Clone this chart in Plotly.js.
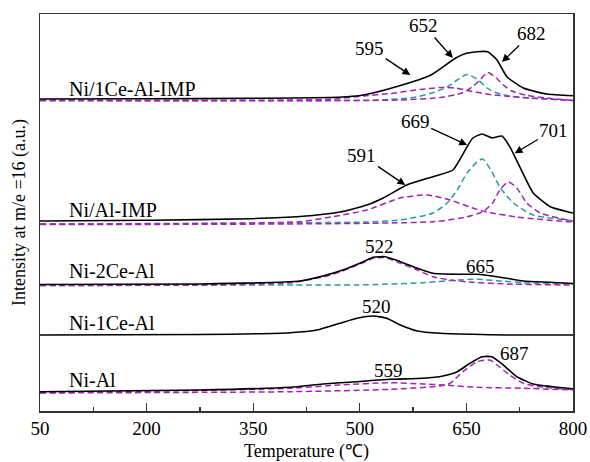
<!DOCTYPE html>
<html>
<head>
<meta charset="utf-8">
<script src="https://cdn.plot.ly/plotly-3.0.1.min.js"></script>
<style>
html,body{margin:0;padding:0;background:#fff;}
#chart{width:590px;height:462px;}
</style>
</head>
<body>
<div id="chart"></div>
<script>
// ---------------- data (temperature in °C, intensity in a.u., curves stacked) ----------------
// Ni/1Ce-Al-IMP
var t1 = [50, 200, 350, 470, 505, 550, 600, 635, 650, 665, 680, 693, 707, 730, 763, 800];
var y1 = [312, 312.2, 312.7, 313.7, 316, 324, 336, 353, 357.7, 359.3, 359.3, 351, 334.3, 323, 317, 315.3];
var t1a = [50, 345, 458, 505, 543, 585, 613, 634, 655, 683, 711, 739, 800];          // fit 595
var y1a = [310.5, 310.7, 311.7, 315, 317.5, 321.5, 323.5, 323, 320, 316.5, 314.5, 313, 310.5];
var t1b = [50, 458, 528, 575, 599, 623, 637, 651, 665, 679, 693, 711, 739, 800];     // fit 652
var y1b = [310.5, 310.5, 311, 313.5, 317.5, 324, 331, 336.5, 332, 323, 318, 315, 313, 310.5];
var t1c = [50, 557, 613, 644, 658, 669, 680, 692, 702, 714, 733, 763, 800];          // fit 682
var y1c = [310.5, 311, 313.5, 318, 324, 331, 338.5, 333, 326, 320, 316, 313, 310.5];

// Ni/Al-IMP
var t2 = [50, 205, 345, 416, 472, 510, 533, 566, 603, 631, 651, 659, 672, 686, 700, 711, 725, 744, 768, 792, 800];
var y2 = [190, 190.7, 192.3, 194.5, 199, 206, 213, 226, 234.3, 241, 264.3, 273, 277, 273, 275, 264.3, 244.3, 218, 204.3, 199.3, 198];
var t2a = [50, 275, 416, 462, 510, 557, 595, 627, 659, 679, 721, 792, 800];          // fit 591
var y2a = [187, 187.5, 189.3, 194.3, 201, 213, 216, 211, 203, 199, 194, 189.3, 189];
var t2b = [50, 510, 557, 603, 623, 637, 651, 665, 673, 686, 697, 716, 744, 792, 800]; // fit 669
var y2b = [187, 189, 191, 198, 208, 221, 238, 249, 252, 239, 224, 208, 196, 191, 190];
var t2c = [50, 603, 651, 673, 687, 697, 709, 721, 735, 754, 792, 800];               // fit 701
var y2c = [186.5, 189.3, 194.3, 199.3, 208, 221, 229, 223, 208, 198, 191, 190];

// Ni-2Ce-Al
var t3 = [50, 275, 416, 448, 476, 505, 519, 536, 557, 581, 603, 637, 665, 693, 730, 768, 793, 800];
var y3 = [126.5, 127, 130, 135, 141, 149.3, 153.7, 154.3, 149.3, 142.7, 137.7, 136.7, 136.7, 134.3, 130, 128.7, 127.7, 127.5];
var t3a = [50, 275, 402, 448, 476, 505, 519, 536, 557, 581, 603, 627, 659, 707, 792, 800]; // fit 522
var y3a = [125.5, 126, 128.3, 134, 140, 148.5, 152.7, 153.3, 147.7, 141, 134.3, 131, 128.7, 127, 126, 126];
var t3b = [50, 402, 496, 589, 637, 665, 693, 730, 792, 800];                         // fit 665
var y3b = [125.5, 126, 126, 128.3, 131, 131.7, 130.3, 128.3, 127, 126.8];

// Ni-1Ce-Al
var t4 = [50, 275, 402, 440, 472, 496, 519, 538, 557, 581, 613, 659, 707, 800];
var y4 = [76, 76.5, 78.3, 81, 87.7, 92.7, 95, 92.7, 86, 80, 77.7, 76.7, 76, 76];

// Ni-Al
var t5 = [50, 275, 402, 448, 496, 543, 589, 617, 637, 655, 672, 686, 702, 721, 744, 778, 800];
var y5 = [19.3, 21, 23.7, 27, 29.3, 31.7, 32.7, 35, 39.3, 47.7, 54.3, 54.3, 46, 34.3, 27, 23.7, 22.3];
var t5a = [50, 275, 402, 472, 543, 589, 617, 665, 730, 800];                         // fit 559
var y5a = [18.3, 20.5, 22.7, 26, 28.3, 27, 26, 23.7, 22.7, 21];
var t5b = [50, 402, 543, 613, 627, 645, 665, 683, 693, 711, 730, 758, 800];          // fit 687
var y5b = [18, 19.3, 21.7, 25, 27.7, 39.3, 49.3, 51, 46, 36, 27.7, 23.7, 21.5];

// labels
var sampleNames = ['Ni/1Ce-Al-IMP', 'Ni/Al-IMP', 'Ni-2Ce-Al', 'Ni-1Ce-Al', 'Ni-Al'];
var sampleLabelT = [88, 88, 88, 88, 88];
var sampleLabelY = [322.5, 201.5, 140.5, 88.5, 31.5];

// peak labels with arrows: text, text position, arrow tip
var arrowText = ['595', '652', '682', '591', '669', '701'];
var arrowTextT = [514, 590, 742, 503, 578, 773];
var arrowTextY = [363, 385.5, 377.5, 255.5, 290, 281];
var arrowTipT = [571, 631, 700, 564, 651, 718];
var arrowTipY = [336, 353, 349, 226, 266, 257.7];

// plain peak labels
var peakText = ['522', '665', '520', '559', '687'];
var peakT = [528, 670, 523, 540, 718];
var peakY = [164.5, 145, 104.5, 41, 57.5];

var xTicks = [50, 200, 350, 500, 650, 800];

// ---------------- traces ----------------
var MAG = '#a324b4', CYA = '#2b9c9c';
function dashed(t, y, c) {
  return {x: t, y: y, mode: 'lines', type: 'scatter', hoverinfo: 'skip', showlegend: false,
          line: {color: c, width: 1.5, dash: '6px,3.5px', shape: 'spline', smoothing: 0.6}};
}
function solid(t, y) {
  return {x: t, y: y, mode: 'lines', type: 'scatter', showlegend: false,
          line: {color: '#000', width: 1.6, shape: 'spline', smoothing: 0.5}};
}
var data = [
  dashed(t1b, y1b, CYA), dashed(t1a, y1a, MAG), dashed(t1c, y1c, MAG),
  dashed(t2b, y2b, CYA), dashed(t2a, y2a, MAG), dashed(t2c, y2c, MAG),
  dashed(t3b, y3b, CYA), dashed(t3a, y3a, MAG),
  dashed(t5a, y5a, MAG), dashed(t5b, y5b, MAG),
  solid(t1, y1), solid(t2, y2), solid(t3, y3), solid(t4, y4), solid(t5, y5)
];

var FONT = 'Liberation Serif, Times New Roman, serif';
var annotations = [];
for (var i = 0; i < sampleNames.length; i++) {
  annotations.push({x: sampleLabelT[i], y: sampleLabelY[i], xref: 'x', yref: 'y', text: sampleNames[i],
    showarrow: false, xanchor: 'left', yanchor: 'middle', font: {family: FONT, size: 20, color: '#000'}});
}
for (var j = 0; j < arrowText.length; j++) {
  annotations.push({x: arrowTipT[j], y: arrowTipY[j], xref: 'x', yref: 'y',
    ax: arrowTextT[j], ay: arrowTextY[j], axref: 'x', ayref: 'y', text: arrowText[j],
    showarrow: true, arrowhead: 2, arrowsize: 1.2, arrowwidth: 1.3, arrowcolor: '#000',
    borderpad: 1, font: {family: FONT, size: 19, color: '#000'}});
}
for (var k = 0; k < peakText.length; k++) {
  annotations.push({x: peakT[k], y: peakY[k], xref: 'x', yref: 'y', text: peakText[k],
    showarrow: false, xanchor: 'center', yanchor: 'middle', font: {family: FONT, size: 19, color: '#000'}});
}

var layout = {
  width: 590, height: 462,
  margin: {l: 40, r: 17, t: 14, b: 51},
  paper_bgcolor: '#fff', plot_bgcolor: '#fff',
  font: {family: FONT, size: 19, color: '#000'},
  showlegend: false,
  xaxis: {
    range: [50, 800], tickvals: xTicks, ticktext: xTicks.map(String),
    ticks: 'inside', ticklen: 8, tickwidth: 1.3, tickcolor: '#333',
    minor: {dtick: 75, tick0: 50, ticks: 'inside', ticklen: 4, tickwidth: 1.3, tickcolor: '#333'},
    showline: true, linecolor: '#333', linewidth: 1.5, mirror: true,
    showgrid: false, zeroline: false,
    tickfont: {family: FONT, size: 19, color: '#000'},
    title: {text: 'Temperature (℃)', font: {family: FONT, size: 18, color: '#000'}, standoff: 6}
  },
  yaxis: {
    range: [0, 397], showticklabels: false, ticks: '',
    showline: true, linecolor: '#333', linewidth: 1.5, mirror: true,
    showgrid: false, zeroline: false,
    title: {text: 'Intensity at m/e =16 (a.u.)', font: {family: FONT, size: 18, color: '#000'}, standoff: 8}
  },
  annotations: annotations
};

Plotly.newPlot('chart', data, layout, {displayModeBar: false, staticPlot: true});
</script>
</body>
</html>
